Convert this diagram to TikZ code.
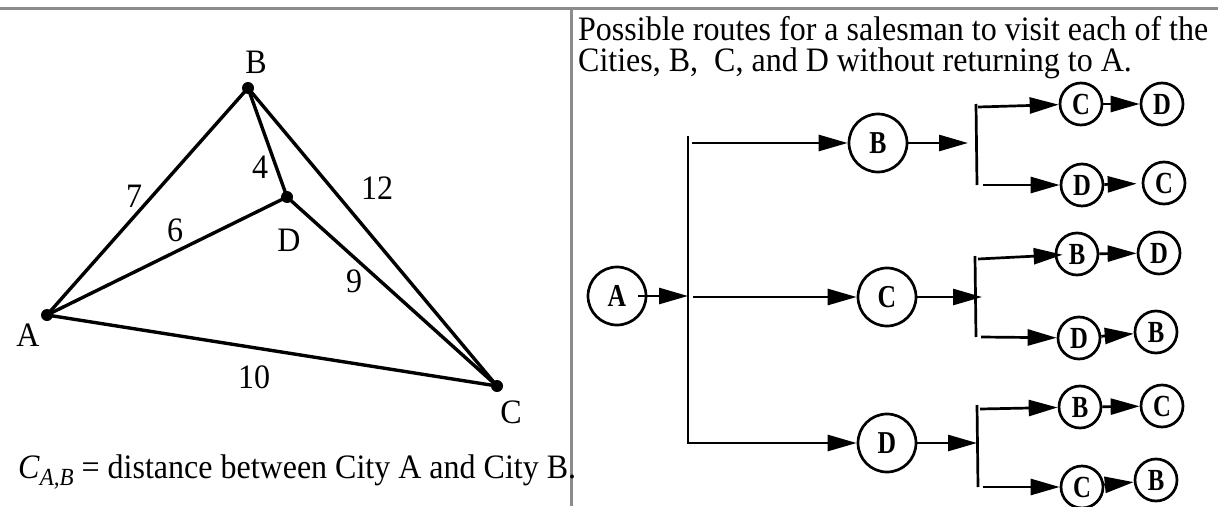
\documentclass[tikz,border=0pt]{standalone}
\usepackage{fontspec}
\setmainfont{Liberation Serif}
\usetikzlibrary{arrows.meta}
\definecolor{framegray}{RGB}{140,140,140}
\newcommand{\lowr}[1]{\raisebox{-2pt}{\scalebox{0.95}[1.18]{#1}}}
\newcommand{\tallt}[1]{\scalebox{1}[1.07]{#1}}
\begin{document}
\begin{tikzpicture}[x=1pt,y=-1pt,
  txt/.style={font=\fontsize{32}{36}\selectfont, inner sep=0pt},
  city/.style={circle, fill=black, inner sep=0pt, minimum size=12pt},
  road/.style={line width=3.4pt},
  big/.style={circle, draw, line width=2.7pt, minimum size=58pt, inner sep=0pt, font=\fontsize{27}{27}\selectfont\bfseries},
  small/.style={circle, draw, line width=2.7pt, minimum size=42pt, inner sep=0pt, font=\fontsize{26}{26}\selectfont\bfseries},
  link/.style={line width=2.7pt},
  arr/.style={line width=2.7pt, -{Triangle[length=29pt,width=16pt]}},
  frame/.style={line width=3pt, draw=framegray}
]
\useasboundingbox (0,0) rectangle (1218,506);
% frame
\coordinate (tl) at (0,8); \coordinate (tr) at (1218,8);
\coordinate (vt) at (571,8); \coordinate (vb) at (571,506);
\draw[frame] (tl) -- (tr);
\draw[frame] (vt) -- (vb);

% graph
\node[city] (A) at (47,315) {};
\node[city] (B) at (248,88) {};
\node[city] (D) at (287,197) {};
\node[city] (C) at (497,386) {};
\draw[road] (A.center) -- (B.center) -- (C.center) -- cycle;
\draw[road] (A.center) -- (D.center);
\draw[road] (B.center) -- (D.center) -- (C.center);
\node[txt] (lA) at (28,335) {\tallt{A}};
\node[txt] (lB) at (256,62) {\tallt{B}};
\node[txt] (lD) at (289,240) {\tallt{D}};
\node[txt] (lC) at (511,412) {\tallt{C}};
\node[txt] (w7) at (134,196) {\tallt{7}};
\node[txt] (w4) at (260,167) {\tallt{4}};
\node[txt] (w12) at (377,188) {\tallt{12}};
\node[txt] (w6) at (175,230) {\tallt{6}};
\node[txt] (w9) at (354,281) {\tallt{9}};
\node[txt] (w10) at (254,377) {\tallt{10}};
\node[txt, anchor=base west] (cap) at (18,478) {\tallt{\textit{C}\raisebox{-7pt}{\fontsize{23}{23}\selectfont\textit{A,B}}\hspace{8pt}=\hspace{8pt}distance between City A and City B.}};

% right text
\node[txt, anchor=base west] (t1) at (578,40) {\tallt{Possible routes for a salesman to visit each of the}};
\node[txt, anchor=base west] (t2) at (578,71) {\tallt{Cities,\ B,\ \ C, and D without returning to A.}};

% tree
\node[big] (a0) at (617,296) {\lowr{A}};
\node[big] (b1) at (878,143) {\lowr{B}};
\node[big] (c1) at (887,297) {\lowr{C}};
\node[big] (d1) at (887,443) {\lowr{D}};

\coordinate (tt) at (688,136);
\coordinate (tm) at (688,296);
\draw[arr] ([xshift=-9pt]a0.east) -- (tm);
\draw[arr] (tt) |- (d1);
\coordinate (s1) at (692,143);
\coordinate (s2) at (693,297);
\draw[arr] (s1) -- (b1);
\draw[arr] (s2) -- (c1);

% sub-tree B
\node[small] (c2) at (1081,104) {\lowr{C}};
\node[small] (d2) at (1162,104) {\lowr{D}};
\node[small] (d3) at (1082,185) {\lowr{D}};
\node[small] (c3) at (1164,183) {\lowr{C}};
\coordinate (u1t) at (976,104); \coordinate (u1b) at (977,185);
\draw[link] (u1t) -- (u1b);
\coordinate (u1in) at (968,143);
\draw[arr] (b1) -- (u1in);
\coordinate (u1s) at (978,107);
\draw[arr] (u1s) -- (c2);
\draw[arr] (c2) -- (d2);
\coordinate (u1s2) at (983,185);
\draw[arr] (u1s2) -- (d3);
\draw[arr, shorten >=5pt] (d3) -- (c3);

% sub-tree C
\node[small] (b4) at (1077,254) {\lowr{B}};
\node[small] (d4) at (1159,253) {\lowr{D}};
\node[small] (d5) at (1079,338) {\lowr{D}};
\node[small] (b5) at (1156,332) {\lowr{B}};
\coordinate (u2t) at (975,256); \coordinate (u2b) at (976,337);
\draw[link] (u2t) -- (u2b);
\coordinate (u2in) at (982,297);
\draw[arr] (c1) -- (u2in);
\coordinate (u2s) at (978,259);
\draw[arr, shorten >=-8pt] (u2s) -- (b4);
\draw[arr] (b4) -- (d4);
\coordinate (u2s2) at (981,337);
\draw[arr] (u2s2) -- (d5);
\draw[arr] (d5) -- (b5);

% sub-tree D
\node[small] (b6) at (1080,407) {\lowr{B}};
\node[small] (c6) at (1162,406) {\lowr{C}};
\node[small] (c7) at (1082,487) {\lowr{C}};
\node[small] (b7) at (1156,480) {\lowr{B}};
\coordinate (u3t) at (977,405); \coordinate (u3b) at (978,487);
\draw[link] (u3t) -- (u3b);
\coordinate (u3in) at (977,443);
\draw[arr] (d1) -- (u3in);
\coordinate (u3s) at (980,409);
\draw[arr] (u3s) -- (b6);
\draw[arr] (b6) -- (c6);
\coordinate (u3s2) at (983,487);
\draw[arr] (u3s2) -- (c7);
\draw[arr] (c7) -- (b7);
\end{tikzpicture}
\end{document}
